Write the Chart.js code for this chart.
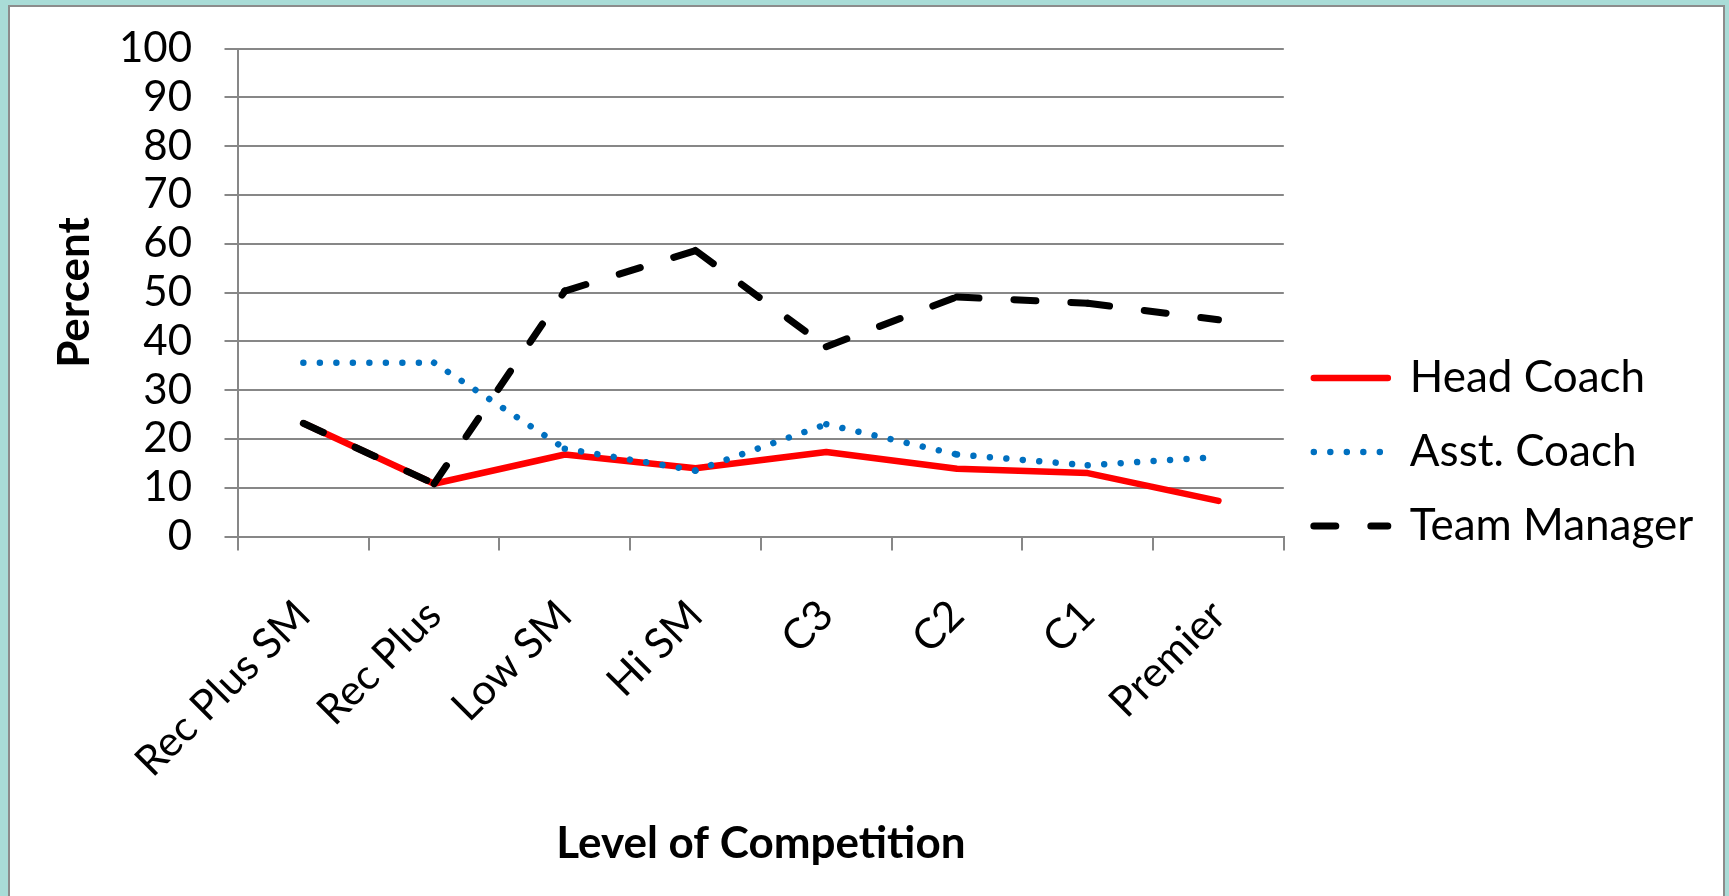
<!DOCTYPE html>
<html>
<head>
<meta charset="utf-8">
<script src="https://cdn.jsdelivr.net/npm/chart.js@4.4.1/dist/chart.umd.min.js"></script>
<style>
html,body{margin:0;padding:0;width:1729px;height:896px;overflow:hidden;background:#a9dcd7;}
#panel{position:absolute;left:8px;top:5px;width:1717px;height:1000px;box-sizing:border-box;background:#fff;border:2px solid #8c8c8c;}
#c{position:absolute;left:0;top:0;}
</style>
</head>
<body>
<div id="panel"></div>
<canvas id="c" width="1729" height="896"></canvas>
<script>
// ---- data ----
const categories = ['Rec Plus SM', 'Rec Plus', 'Low SM', 'Hi SM', 'C3', 'C2', 'C1', 'Premier'];
const headCoach   = [23.2, 10.8, 16.8, 14.0, 17.3, 13.9, 13.0, 7.3];
const asstCoach   = [35.6, 35.6, 18.0, 13.5, 23.0, 16.8, 14.6, 16.3];
const teamManager = [23.2, 10.8, 50.3, 58.6, 38.9, 49.1, 47.8, 44.4];
const seriesNames = ['Head Coach', 'Asst. Coach', 'Team Manager'];
const yMin = 0, yMax = 100, yStep = 10;
const xTitle = 'Level of Competition';
const yTitle = 'Percent';

// ---- styling ----
const FONT = 'Lato';
const GREY = '#878787';
const FS = 42;        // tick labels
const FS_T = 44;      // axis titles (bold)
const FS_L = 44;      // legend
const DASH = [22, 35];
const DOT = [0.001, 16.5];
const period = a => a[0] + a[1];
const restart = a => (c => c.p0DataIndex * period(a));

const CHART_LEFT = 238, CHART_TOP = 48.5, CHART_RIGHT = 1283, CHART_BOTTOM = 536.5;
const PAD_LEFT = 48, PAD_BOTTOM = 40.5;
const LEG_PAD = 30, LEG_LINE = 74;

const chart = new Chart(document.getElementById('c'), {
  type: 'line',
  data: {
    labels: categories,
    datasets: [
      { label: seriesNames[0], data: headCoach, borderColor: '#ff0000', backgroundColor: '#ff0000',
        borderWidth: 6.5, borderCapStyle: 'round', borderJoinStyle: 'round', pointRadius: 0, order: 3 },
      { label: seriesNames[1], data: asstCoach, borderColor: '#0070c0', backgroundColor: '#0070c0',
        borderWidth: 6.5, borderCapStyle: 'round', borderJoinStyle: 'round', borderDash: DOT, pointRadius: 0, order: 2,
        segment: { borderDashOffset: restart(DOT) } },
      { label: seriesNames[2], data: teamManager, borderColor: '#000000', backgroundColor: '#000000',
        borderWidth: 7, borderCapStyle: 'round', borderJoinStyle: 'round', borderDash: DASH, pointRadius: 0, order: 1,
        segment: { borderDashOffset: restart(DASH) } }
    ]
  },
  options: {
    responsive: false,
    animation: false,
    layout: { padding: { left: PAD_LEFT, top: CHART_TOP, right: 30, bottom: PAD_BOTTOM } },
    plugins: {
      tooltip: { enabled: false },
      legend: {
        position: 'right',
        align: 'center',
        labels: {
          usePointStyle: true,
          pointStyleWidth: LEG_LINE,
          padding: LEG_PAD,
          color: '#000',
          font: { family: FONT, size: FS_L },
          generateLabels: chart => chart.data.datasets.map((ds, i) => ({
            text: ds.label, datasetIndex: i, hidden: false,
            pointStyle: 'line', fillStyle: 'rgba(0,0,0,0)', strokeStyle: ds.borderColor,
            lineWidth: ds.borderWidth, lineDash: ds.borderDash || [], lineDashOffset: 0,
            lineCap: ds.borderCapStyle, lineJoin: 'round', fontColor: '#000'
          }))
        }
      }
    },
    scales: {
      x: {
        type: 'category',
        offset: true,
        grid: { display: true, drawOnChartArea: false, drawTicks: true, tickLength: 14, offset: true, color: GREY, lineWidth: 2 },
        border: { display: true, color: GREY, width: 2 },
        ticks: { autoSkip: false, minRotation: 45, maxRotation: 45, padding: 40, color: '#000', font: { family: FONT, size: FS } },
        title: { display: true, text: xTitle, color: '#000', font: { family: FONT, size: FS_T, weight: 'bold' }, padding: { top: 0, bottom: -15 } },
        afterFit: s => { s.height = 896 - PAD_BOTTOM - CHART_BOTTOM; }
      },
      y: {
        min: yMin, max: yMax,
        grid: { color: GREY, lineWidth: 2, drawTicks: true, tickLength: 13.5 },
        border: { display: true, color: GREY, width: 2 },
        ticks: { autoSkip: false, stepSize: yStep, padding: 32.5, color: '#000', font: { family: FONT, size: FS } },
        title: { display: true, text: yTitle, color: '#000', font: { family: FONT, size: FS_T, weight: 'bold' }, padding: { top: 0, bottom: 0 } },
        afterFit: s => { s.width = CHART_LEFT - PAD_LEFT; s.paddingTop = 0; s.paddingBottom = 0; }
      }
    }
  }
});
// place the legend so the plot area ends where the reference's does
chart.options.layout.padding.right = 1729 - CHART_RIGHT - chart.legend.width;
chart.update();
</script>
</body>
</html>
